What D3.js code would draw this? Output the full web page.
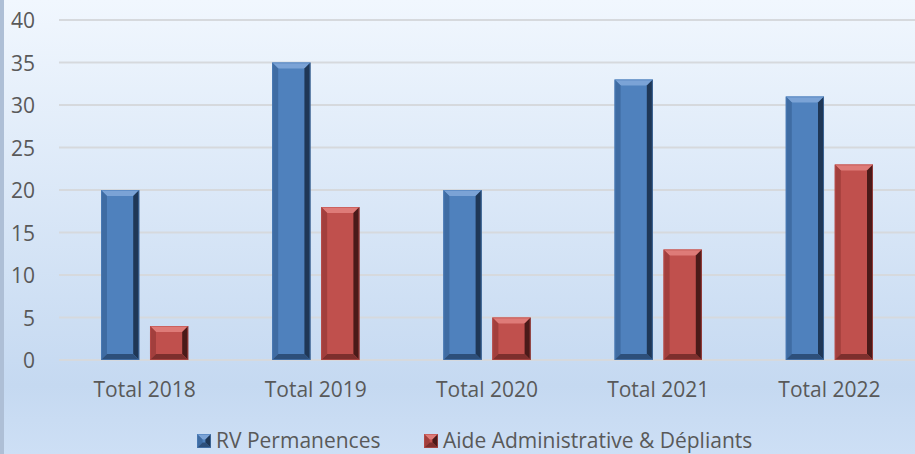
<!DOCTYPE html>
<html>
<head>
<meta charset="utf-8">
<script src="https://cdn.jsdelivr.net/npm/d3@7/dist/d3.min.js"></script>
<style>
  body { margin: 0; }
  svg { display: block; font-family: "Open Sans", "Noto Sans", sans-serif; }
</style>
</head>
<body>
<div id="container"></div>
<script>
let categories = ["Total 2018", "Total 2019", "Total 2020", "Total 2021", "Total 2022"];
let seriesNames = ["RV Permanences", "Aide Administrative & Dépliants"];
let rvValues = [20, 35, 20, 33, 31];
let aideValues = [4, 18, 5, 13, 23];
let yTicks = [0, 5, 10, 15, 20, 25, 30, 35, 40];

let w = 915;
let h = 454;
let plotLeft = 59;
let plotRight = 915;
let plotTop = 20;
let plotBottom = 360;

let colors = [
  { face: "#4f81bd", light: "#7ba3d6", mid: "#3f6ca3", dark: "#1f3756", shade: "#2d4f7a" },
  { face: "#c0504d", light: "#de7b78", mid: "#a23f3d", dark: "#4a1a19", shade: "#7d2f2d" }
];

let viz = d3.select("#container")
  .append("svg")
  .attr("width", w)
  .attr("height", h);

let defs = viz.append("defs");
let bg = defs.append("linearGradient")
  .attr("id", "bg")
  .attr("x1", 0).attr("y1", 0).attr("x2", 0).attr("y2", 1);
bg.append("stop").attr("offset", "0%").attr("stop-color", "#f1f7fe");
bg.append("stop").attr("offset", "85%").attr("stop-color", "#c5d9f1");
bg.append("stop").attr("offset", "100%").attr("stop-color", "#cddff5");

viz.append("rect").attr("width", w).attr("height", h).attr("fill", "url(#bg)");
viz.append("rect").attr("width", 4).attr("height", h).attr("fill", "#aebfd6");

let data = categories.map(function (c, i) {
  return { cat: c, values: [rvValues[i], aideValues[i]] };
});

let xScale = d3.scaleBand().domain(categories).range([plotLeft, plotRight]);
let xSub = d3.scaleBand().domain([0, 1]).range([42, xScale.bandwidth() - 42]).paddingInner(0.22);
let yScale = d3.scaleLinear().domain([0, 40]).range([plotBottom, plotTop]);

// gridlines
viz.append("g")
  .selectAll("line")
  .data(yTicks)
  .enter()
  .append("line")
  .attr("x1", plotLeft)
  .attr("x2", plotRight)
  .attr("y1", function (d) { return yScale(d); })
  .attr("y2", function (d) { return yScale(d); })
  .attr("stroke", "#d6d9dd")
  .attr("stroke-width", 2);

// y axis labels
let yAxis = d3.axisLeft(yScale).tickValues(yTicks).tickSize(0).tickPadding(0);
let yAxisGroup = viz.append("g")
  .attr("transform", "translate(35,0)")
  .call(yAxis);
yAxisGroup.select(".domain").remove();
yAxisGroup.selectAll("text")
  .attr("fill", "#595959")
  .attr("dy", "0.36em")
  .style("font-size", "21px")
  .style("font-family", "'Open Sans', sans-serif");

// x axis labels
let xAxis = d3.axisBottom(xScale).tickSize(0).tickPadding(0);
let xAxisGroup = viz.append("g")
  .attr("transform", "translate(0,397)")
  .call(xAxis);
xAxisGroup.select(".domain").remove();
xAxisGroup.selectAll("text")
  .attr("fill", "#595959")
  .attr("dy", 0)
  .style("font-size", "21px")
  .style("font-family", "'Open Sans', sans-serif");

// bevelled bar
function drawBar(g, x, y, bw, bh, c) {
  let b = Math.min(6, bh / 2.5);
  let x2 = x + bw, y2 = y + bh;
  g.append("rect").attr("x", x).attr("y", y).attr("width", bw).attr("height", bh).attr("fill", c.face);
  g.append("polygon")
    .attr("points", [[x, y], [x2, y], [x2 - b, y + b], [x + b, y + b]].join(" "))
    .attr("fill", c.light);
  g.append("polygon")
    .attr("points", [[x, y], [x + b, y + b], [x + b, y2 - b], [x, y2]].join(" "))
    .attr("fill", c.mid);
  g.append("polygon")
    .attr("points", [[x2, y], [x2, y2], [x2 - b, y2 - b], [x2 - b, y + b]].join(" "))
    .attr("fill", c.dark);
  g.append("polygon")
    .attr("points", [[x, y2], [x + b, y2 - b], [x2 - b, y2 - b], [x2, y2]].join(" "))
    .attr("fill", c.shade);
  g.append("rect").attr("x", x + 0.5).attr("y", y + 0.5).attr("width", bw - 1).attr("height", bh - 1)
    .attr("fill", "none").attr("stroke", c.face).attr("stroke-opacity", 0.6).attr("stroke-width", 1);
}

let graphGroup = viz.append("g").attr("class", "graphGroup");
data.forEach(function (d) {
  d.values.forEach(function (v, j) {
    let bx = xScale(d.cat) + xSub(j);
    let by = yScale(v);
    drawBar(graphGroup.append("g"), bx, by, xSub.bandwidth(), yScale(0) - by, colors[j]);
  });
});

// legend
let legendX = [197, 424];
let legend = viz.append("g");
seriesNames.forEach(function (name, j) {
  let lg = legend.append("g").attr("transform", "translate(" + legendX[j] + ",434)");
  drawBar(lg, 0, 0, 14, 14, colors[j]);
  lg.append("text")
    .attr("x", 19)
    .attr("y", 14)
    .attr("fill", "#595959")
    .style("font-size", "21px")
    .style("font-family", "'Open Sans', sans-serif")
    .text(name);
});
</script>
</body>
</html>
